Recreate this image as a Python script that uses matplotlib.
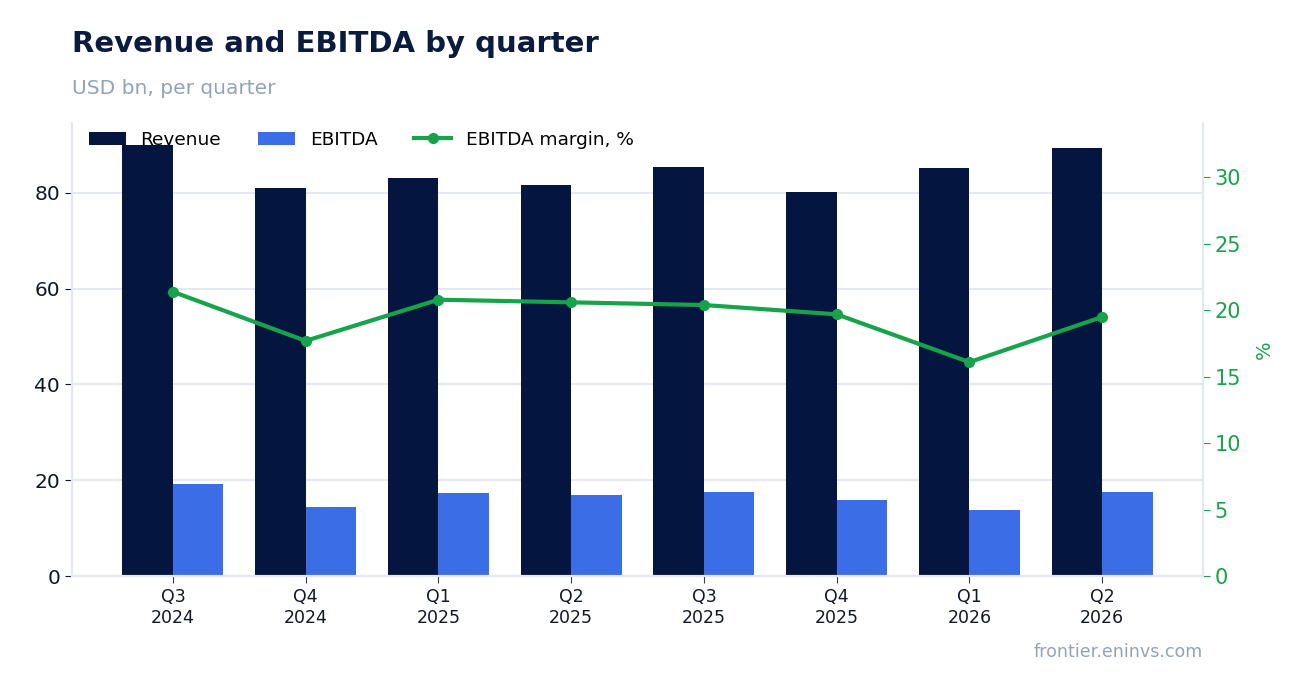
import matplotlib.pyplot as plt
import numpy as np

quarters = ['Q3\n2024', 'Q4\n2024', 'Q1\n2025', 'Q2\n2025', 'Q3\n2025', 'Q4\n2025', 'Q1\n2026', 'Q2\n2026']
revenue = [90.0, 81.0, 83.1, 81.7, 85.4, 80.2, 85.2, 89.4]
ebitda = [19.2, 14.4, 17.3, 16.9, 17.5, 15.9, 13.8, 17.5]
margin = [21.4, 17.7, 20.8, 20.6, 20.4, 19.7, 16.1, 19.5]

NAVY = '#041640'
BLUE = '#3b6de6'
GREEN = '#16a34a'
GRID = '#e5e8f0'
MUTED = '#94a3b8'

fig = plt.figure(figsize=(13.02, 6.93), dpi=100)
ax = fig.add_axes([0.0553, 0.1688, 0.8687, 0.6537])
ax2 = ax.twinx()

x = np.arange(len(quarters))
w = 0.38
b1 = ax.bar(x - w / 2, revenue, w, color=NAVY, label='Revenue', zorder=2)
b2 = ax.bar(x + w / 2, ebitda, w, color=BLUE, label='EBITDA', zorder=2)
l1, = ax2.plot(x, margin, color=GREEN, lw=3, marker='o', ms=7, label='EBITDA margin, %')

ax.set_xlim(-0.76, 7.76)
ax.set_ylim(0, 94.6)
ax2.set_ylim(0, 34.1)
ax.set_yticks([0, 20, 40, 60, 80])
ax2.set_yticks([0, 5, 10, 15, 20, 25, 30])
ax.set_xticks(x)
ax.set_xticklabels(quarters, fontsize=12.5, color='#111827')
ax.tick_params(axis='y', labelsize=14.5, colors='#111827', length=5)
ax.tick_params(axis='x', length=5, color='#374151')
ax2.tick_params(axis='y', labelsize=15, colors=GREEN, length=5)
ax.grid(axis='y', color=GRID, lw=1.5, zorder=0)
ax.set_axisbelow(True)

for a in (ax, ax2):
    a.spines['top'].set_visible(False)
    for s in ['left', 'right', 'bottom']:
        a.spines[s].set_color(GRID)
        a.spines[s].set_linewidth(1.5)

ax2.set_ylabel('%', color=GREEN, fontsize=14, labelpad=10)

ax2.legend([b1, b2, l1], ['Revenue', 'EBITDA', 'EBITDA margin, %'], loc='upper left',
           ncol=3, frameon=False, fontsize=13.3, bbox_to_anchor=(0.0, 1.02),
           handlelength=2.0, columnspacing=2.0)

fig.text(0.0553, 0.936, 'Revenue and EBITDA by quarter', fontsize=21, fontweight='bold',
         color='#0b1b3f', va='center')
fig.text(0.0553, 0.873, 'USD bn, per quarter', fontsize=14.5, color=MUTED, va='center')
fig.text(0.924, 0.059, 'frontier.eninvs.com', fontsize=12.6, color=MUTED, ha='right', va='center')

fig.savefig('out.png', dpi=100)
